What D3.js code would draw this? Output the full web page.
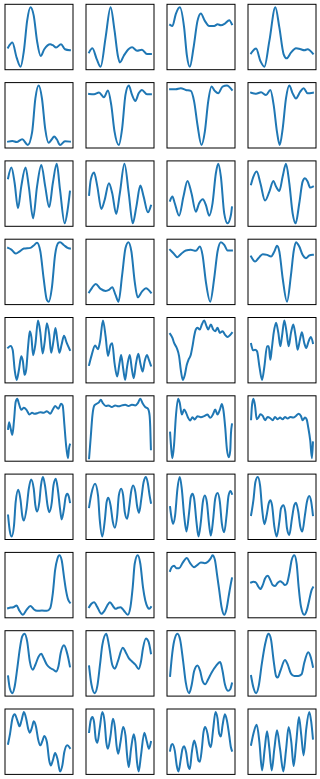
<!DOCTYPE html>
<html><head><meta charset="utf-8">
<script src="https://cdn.jsdelivr.net/npm/d3@7"></script>
<style>html,body{margin:0;padding:0;background:#fff;}svg{display:block;}</style>
</head><body>
<script>
// Each panel: [t, value] samples
const r1c1 = [[0,70],[13,85],[26,40],[38,13],[48,60],[58,150],[68,190],[78,165],[88,90],[99,45],[110,65],[128,80],[136,77],[146,70],[161,80],[173,65],[188,62]];
const r1c2 = [[0,55],[10,67],[23,35],[35,12],[50,100],[65,190],[77,120],[87,45],[93,25],[105,45],[120,65],[130,70],[145,60],[160,63],[175,50],[187,50]];
const r1c3 = [[0,138],[7,135],[17,170],[29,190],[42,130],[50,50],[59,15],[70,70],[82,150],[92,172],[104,150],[117,135],[132,135],[142,140],[152,137],[164,142],[177,152],[185,140]];
const r1c4 = [[0,53],[15,67],[28,30],[40,13],[55,90],[73,190],[85,130],[98,50],[107,38],[120,55],[135,68],[150,65],[160,62],[170,65],[186,52]];
const r2c1 = [[0,24],[13,26],[26,23],[43,31],[60,14],[73,51],[83,151],[93,189],[103,151],[113,61],[123,21],[133,31],[140,39],[148,31],[158,14],[173,25],[188,24]];
const r2c2 = [[0,164],[15,163],[30,168],[45,154],[57,174],[67,131],[77,51],[90,11],[100,61],[110,161],[120,189],[130,161],[140,143],[150,166],[160,176],[175,163],[187,163]];
const r2c3 = [[0,178],[17,178],[32,181],[47,176],[62,173],[72,141],[82,71],[94,11],[104,51],[114,141],[124,186],[134,173],[144,166],[157,186],[170,189],[185,176]];
const r2c4 = [[0,168],[15,165],[30,169],[45,161],[58,176],[68,131],[78,51],[86,13],[95,61],[105,151],[115,189],[125,166],[135,151],[148,171],[158,181],[170,166],[186,168]];
const r3c1 = [[0,146],[10,178],[20,131],[30,56],[40,121],[53,178],[63,121],[76,26],[88,121],[101,186],[113,121],[125,59],[136,131],[148,189],[158,111],[172,11],[181,51],[188,106]];
const r3c2 = [[0,96],[5,141],[15,163],[25,121],[37,54],[47,81],[60,131],[70,101],[82,39],[93,101],[107,189],[120,101],[132,11],[143,61],[155,124],[165,91],[178,44],[187,64]];
const r3c3 = [[0,79],[7,91],[14,71],[27,34],[40,91],[52,138],[64,101],[77,46],[87,71],[98,83],[107,66],[117,34],[127,71],[137,161],[144,189],[152,151],[162,41],[172,11],[182,36],[185,59]];
const r3c4 = [[0,128],[7,151],[17,166],[28,131],[42,79],[55,106],[67,138],[75,121],[85,108],[95,151],[105,189],[115,131],[125,41],[134,11],[145,71],[155,136],[162,146],[170,136],[178,118],[186,121]];
const r4c1 = [[0,171],[10,166],[23,154],[33,159],[48,169],[68,171],[78,178],[88,186],[98,161],[108,81],[118,16],[124,11],[133,51],[143,151],[153,186],[158,188],[170,179],[181,171],[188,169]];
const r4c2 = [[0,39],[10,54],[20,64],[35,49],[50,43],[60,46],[70,54],[80,31],[89,11],[100,91],[110,171],[119,189],[128,161],[138,71],[147,24],[160,41],[172,51],[187,38]];
const r4c3 = [[0,166],[10,156],[22,144],[32,153],[47,164],[62,166],[77,163],[89,176],[97,151],[107,71],[120,11],[132,81],[142,161],[152,189],[162,181],[172,164],[185,164]];
const r4c4 = [[0,146],[12,131],[22,141],[35,153],[48,151],[60,146],[70,161],[78,178],[85,161],[95,81],[108,11],[120,91],[128,161],[135,189],[145,176],[155,151],[165,141],[175,149],[186,151]];
const r5c1 = [[0,106],[8,111],[14,99],[20,41],[26,11],[33,41],[40,81],[45,66],[50,26],[55,41],[61,111],[66,154],[71,136],[76,84],[83,116],[91,186],[98,151],[105,89],[111,121],[118,178],[125,146],[131,91],[138,126],[144,164],[150,126],[156,91],[163,116],[170,141],[178,121],[188,99]];
const r5c2 = [[0,56],[8,86],[18,114],[27,103],[33,126],[42,189],[50,141],[57,83],[65,116],[70,121],[77,61],[85,21],[92,61],[97,86],[103,46],[109,11],[115,51],[123,86],[129,46],[135,16],[142,61],[149,89],[155,61],[162,36],[168,66],[175,86],[181,71],[187,54]];
const r5c3 = [[0,148],[7,136],[12,121],[20,106],[27,81],[32,41],[38,11],[44,26],[50,56],[55,71],[62,86],[67,111],[72,141],[77,161],[82,166],[89,161],[95,176],[102,188],[109,171],[114,161],[122,176],[129,161],[135,156],[142,166],[149,151],[157,156],[164,146],[172,139],[179,144],[185,151]];
const r5c4 = [[0,118],[6,99],[12,101],[18,96],[25,51],[33,11],[40,51],[48,111],[53,111],[58,71],[62,101],[68,151],[75,181],[82,151],[88,111],[93,141],[100,188],[107,151],[113,111],[120,151],[127,176],[134,141],[140,101],[147,131],[153,153],[160,121],[166,106],[173,126],[180,139],[186,121]];
const r6c1 = [[0,98],[3,118],[8,98],[13,80],[18,123],[23,178],[28,188],[33,173],[40,155],[48,161],[56,155],[65,141],[73,146],[81,143],[90,145],[98,148],[108,146],[118,151],[128,143],[136,156],[143,166],[153,158],[161,173],[166,168],[171,113],[176,53],[182,10],[185,38],[188,51]];
const r6c2 = [[0,8],[5,73],[10,138],[16,168],[23,173],[30,178],[35,185],[41,175],[50,166],[58,168],[68,163],[78,168],[88,165],[98,168],[108,170],[118,166],[128,170],[138,168],[146,175],[153,188],[161,173],[168,163],[176,158],[181,138],[183,103],[185,35]];
const r6c3 = [[0,88],[4,33],[7,10],[12,53],[17,133],[24,191],[29,178],[35,143],[42,158],[48,148],[54,133],[60,125],[67,135],[74,128],[82,138],[92,135],[102,138],[112,143],[120,133],[128,143],[135,158],[142,143],[149,158],[155,175],[160,153],[165,103],[170,38],[176,13],[180,33],[182,83],[185,113]];
const r6c4 = [[0,128],[3,173],[7,190],[12,168],[17,128],[22,133],[28,143],[35,138],[42,125],[50,135],[58,131],[65,125],[72,135],[80,128],[87,133],[95,128],[102,135],[110,130],[118,135],[127,133],[135,138],[143,145],[150,138],[155,125],[162,133],[167,128],[172,103],[178,63],[183,10],[186,58]];
const r7c1 = [[0,74],[5,29],[11,11],[18,44],[23,114],[31,151],[38,119],[43,74],[48,59],[56,94],[63,154],[70,182],[78,154],[83,104],[88,86],[95,114],[100,164],[106,189],[113,159],[120,104],[125,84],[133,114],[138,164],[145,184],[151,154],[158,94],[163,62],[170,94],[175,129],[180,139],[185,129],[188,114]];
const r7c2 = [[0,99],[7,139],[18,169],[27,134],[32,64],[40,11],[48,64],[53,114],[58,127],[65,104],[72,54],[78,37],[85,74],[90,134],[97,154],[103,134],[108,84],[115,64],[122,104],[127,144],[133,164],[140,144],[145,104],[151,82],[158,124],[165,174],[172,189],[178,169],[183,134],[187,112]];
const r7c3 = [[0,99],[4,69],[9,49],[15,74],[22,154],[29,189],[35,154],[42,74],[49,26],[57,84],[62,129],[67,139],[72,124],[79,54],[85,11],[92,54],[98,114],[104,134],[110,114],[117,44],[122,14],[129,64],[135,124],[142,141],[149,114],[155,49],[162,24],[169,74],[175,134],[181,147],[185,139]];
const r7c4 = [[0,74],[7,119],[13,174],[20,189],[27,164],[33,94],[40,46],[47,74],[53,109],[58,119],[63,104],[70,39],[77,9],[85,54],[90,94],[97,104],[103,84],[108,34],[115,14],[123,64],[130,104],[135,111],[142,84],[148,39],[154,24],[162,74],[168,114],[175,132],[181,114],[186,74]];
const r8c1 = [[0,28],[8,30],[16,31],[26,36],[33,23],[45,8],[56,23],[68,35],[78,25],[88,20],[103,21],[118,20],[128,28],[136,73],[143,143],[150,178],[156,188],[163,173],[170,123],[176,83],[183,53],[188,45]];
const r8c2 = [[0,33],[7,43],[15,48],[25,33],[37,13],[47,23],[55,38],[63,48],[73,35],[80,28],[87,31],[95,33],[105,23],[117,10],[125,33],[132,93],[138,163],[147,188],[155,163],[163,93],[170,53],[177,33],[182,28],[187,33]];
const r8c3 = [[0,140],[5,151],[12,155],[19,148],[27,148],[37,163],[50,178],[60,163],[72,151],[82,158],[92,165],[104,163],[114,168],[122,178],[127,186],[134,173],[140,133],[147,83],[154,33],[162,10],[169,28],[175,63],[182,103],[185,118]];
const r8c4 = [[0,106],[7,108],[15,105],[22,93],[28,86],[35,98],[42,118],[50,126],[58,113],[65,98],[72,95],[80,105],[87,110],[95,105],[102,98],[108,103],[115,133],[122,173],[130,188],[137,163],[143,93],[150,33],[160,8],[168,23],[175,53],[182,83],[186,91]];
const r9c1 = [[0,60],[5,25],[13,10],[20,30],[28,85],[36,145],[43,180],[50,188],[58,165],[66,105],[75,80],[83,95],[93,120],[101,128],[108,115],[118,95],[128,85],[138,80],[146,75],[153,90],[160,130],[170,153],[178,135],[183,115],[188,90]];
const r9c2 = [[0,90],[7,35],[17,8],[25,30],[33,95],[40,155],[52,190],[60,155],[70,95],[78,83],[87,105],[102,147],[110,135],[120,115],[130,105],[140,95],[150,82],[157,105],[163,145],[172,175],[180,165],[187,130]];
const r9c3 = [[0,60],[5,115],[12,165],[22,188],[30,170],[39,105],[47,40],[57,8],[65,35],[72,75],[82,92],[90,75],[97,45],[105,35],[114,50],[124,70],[137,90],[150,102],[157,75],[164,35],[174,15],[180,20],[185,37]];
const r9c4 = [[0,60],[7,25],[15,8],[23,30],[32,95],[42,155],[50,185],[53,188],[60,170],[68,105],[75,60],[80,55],[88,75],[102,108],[110,95],[120,67],[130,60],[142,60],[152,65],[160,100],[172,132],[180,115],[186,88]];
const r10c1 = [[0,91],[6,121],[13,166],[20,179],[28,161],[35,143],[41,161],[48,186],[55,166],[61,136],[66,124],[73,141],[78,158],[85,141],[91,106],[98,86],[105,101],[110,114],[118,96],[125,41],[130,26],[136,41],[143,63],[150,46],[158,8],[165,26],[171,66],[180,86],[188,78]];
const r10c2 = [[0,126],[5,161],[10,171],[15,156],[20,106],[25,94],[32,136],[40,186],[47,156],[52,96],[57,76],[65,116],[72,166],[78,141],[83,86],[88,61],[95,96],[103,141],[110,116],[115,56],[120,21],[127,76],[135,119],[140,96],[145,36],[150,8],[157,56],[167,124],[175,96],[181,76],[187,96]];
const r10c3 = [[0,71],[4,88],[7,91],[14,71],[20,26],[25,9],[32,46],[37,76],[42,84],[48,66],[54,26],[59,16],[65,66],[72,101],[79,76],[85,41],[89,38],[95,76],[100,126],[105,141],[112,121],[117,91],[122,81],[129,136],[136,186],[142,166],[147,121],[152,113],[157,146],[164,179],[170,161],[177,116],[182,81],[185,71]];
const r10c4 = [[0,88],[7,121],[17,148],[25,96],[33,11],[41,76],[48,128],[55,76],[62,11],[70,76],[78,131],[87,76],[97,8],[105,71],[113,141],[121,96],[128,24],[136,96],[144,171],[151,116],[158,56],[166,136],[175,186],[181,156],[186,106]];

const grid = [
  [r1c1, r1c2, r1c3, r1c4],
  [r2c1, r2c2, r2c3, r2c4],
  [r3c1, r3c2, r3c3, r3c4],
  [r4c1, r4c2, r4c3, r4c4],
  [r5c1, r5c2, r5c3, r5c4],
  [r6c1, r6c2, r6c3, r6c4],
  [r7c1, r7c2, r7c3, r7c4],
  [r8c1, r8c2, r8c3, r8c4],
  [r9c1, r9c2, r9c3, r9c4],
  [r10c1, r10c2, r10c3, r10c4]
];

const W = 320, H = 779;
const colLeft = 5, colPitch = 81, panelW = 68;
const rowTop = 4.3, rowPitch = 78.3, panelH = 65.4;

const svg = d3.select("body").append("svg").attr("width", W).attr("height", H);

grid.forEach((row, ri) => {
  row.forEach((data, ci) => {
    const x0 = colLeft + ci * colPitch;
    const y0 = rowTop + ri * rowPitch;
    const tExt = d3.extent(data, d => d[0]);
    const vExt = d3.extent(data, d => d[1]);
    const tPad = (tExt[1] - tExt[0]) * 0.05;
    const vPad = (vExt[1] - vExt[0]) * 0.05;
    const x = d3.scaleLinear().domain([tExt[0] - tPad, tExt[1] + tPad]).range([x0, x0 + panelW]);
    const y = d3.scaleLinear().domain([vExt[0] - vPad, vExt[1] + vPad]).range([y0 + panelH, y0]);
    const line = d3.line().x(d => x(d[0])).y(d => y(d[1])).curve(d3.curveMonotoneX);
    const g = svg.append("g");
    g.append("path").datum(data).attr("d", line)
      .attr("fill", "none").attr("stroke", "#1f77b4").attr("stroke-width", 2)
      .attr("stroke-linejoin", "round").attr("stroke-linecap", "square");
    g.append("rect").attr("x", x0).attr("y", y0).attr("width", panelW).attr("height", panelH)
      .attr("fill", "none").attr("stroke", "#000").attr("stroke-width", 1);
  });
});
</script>
</body></html>
